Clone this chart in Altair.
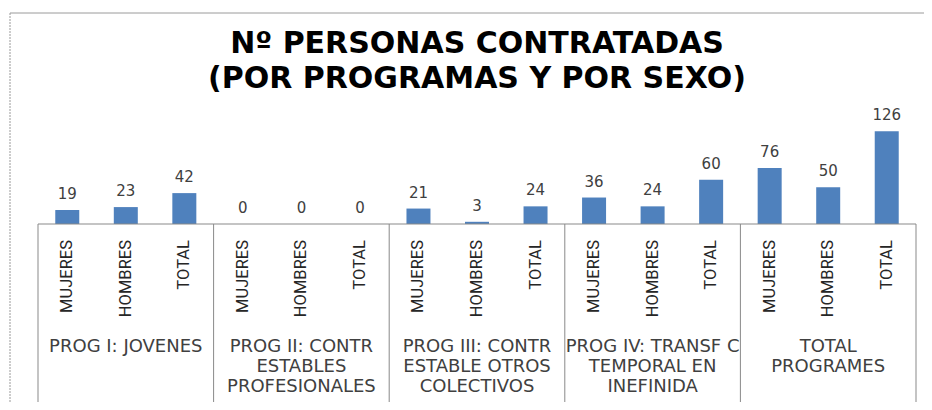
import altair as alt
import pandas as pd

# ---- data ----
group_labels = [
    ["PROG I: JOVENES"],
    ["PROG II: CONTR", "ESTABLES", "PROFESIONALES"],
    ["PROG III: CONTR", "ESTABLE OTROS", "COLECTIVOS"],
    ["PROG IV: TRANSF C", "TEMPORAL EN", "INEFINIDA"],
    ["TOTAL", "PROGRAMES"],
]
sub_labels = ["MUJERES", "HOMBRES", "TOTAL"]
values = [19, 23, 42, 0, 0, 0, 21, 3, 24, 36, 24, 60, 76, 50, 126]
title_lines = ["Nº PERSONAS CONTRATADAS", "(POR PROGRAMAS Y POR SEXO)"]

# ---- tables ----
bars = pd.DataFrame({
    "pos": [i + 0.5 for i in range(len(values))],
    "sub": [sub_labels[i % 3] for i in range(len(values))],
    "value": values,
})
groups = pd.DataFrame({
    "center": [g * 3 + 1.5 for g in range(len(group_labels))],
    "label": ["\n".join(l) for l in group_labels],
})
seps = pd.DataFrame({"x": [g * 3 for g in range(len(group_labels) + 1)]})
base = pd.DataFrame({"x": [0], "x2": [15], "y": [0]})
title_df = pd.DataFrame({"t": ["\n".join(title_lines)]})

W, H = 888, 114
PAD = {"left": 25, "top": 102, "right": 3, "bottom": 178}
xs = alt.Scale(domain=[0, 15], nice=False, zero=False)
ys = alt.Scale(domain=[0, 155], nice=False)

blue = "#4F81BD"
gray = "#898989"
txt = "#404040"

bar_layer = alt.Chart(bars).mark_bar(size=24, color=blue).encode(
    x=alt.X("pos:Q", scale=xs, axis=None),
    y=alt.Y("value:Q", scale=ys, axis=None),
)
val_layer = alt.Chart(bars).mark_text(
    baseline="alphabetic", dy=-11, font="DejaVu Sans", fontSize=15, color=txt
).encode(
    x=alt.X("pos:Q", scale=xs),
    y=alt.Y("value:Q", scale=ys),
    text="value:Q",
)
sub_layer = alt.Chart(bars).mark_text(
    angle=270, align="right", baseline="middle", font="Roboto", fontSize=16.5, color="#262626"
).encode(
    x=alt.X("pos:Q", scale=xs),
    y=alt.value(H + 16),
    text="sub:N",
)
grp_layer = alt.Chart(groups).mark_text(
    align="center", baseline="alphabetic", font="DejaVu Sans", fontSize=18,
    lineBreak="\n", lineHeight=20, color=txt
).encode(
    x=alt.X("center:Q", scale=xs),
    y=alt.value(H + 128),
    text="label:N",
)
sep_layer = alt.Chart(seps).mark_rule(color=gray, strokeWidth=1).encode(
    x=alt.X("x:Q", scale=xs),
    y=alt.value(H),
    y2=alt.value(H + PAD["bottom"]),
)
base_layer = alt.Chart(base).mark_rule(color=gray, strokeWidth=1).encode(
    x=alt.X("x:Q", scale=xs),
    x2="x2:Q",
    y=alt.Y("y:Q", scale=ys),
)
border_top = alt.Chart(base).mark_rule(color="#9a9a9a", strokeWidth=1).encode(
    x=alt.value(-23), x2=alt.value(W + PAD["right"]), y=alt.value(-97)
)
border_left = alt.Chart(base).mark_rule(color="#9a9a9a", strokeWidth=1, strokeDash=[2, 1]).encode(
    x=alt.value(-23), y=alt.value(-97), y2=alt.value(H + PAD["bottom"])
)
title_layer = alt.Chart(title_df).mark_text(
    align="center", baseline="alphabetic", font="DejaVu Sans", fontSize=30,
    fontWeight="bold", lineBreak="\n", lineHeight=35, color="black"
).encode(
    x=alt.value(W / 2),
    y=alt.value(-57),
    text="t:N",
)

chart = alt.layer(
    border_top, border_left, title_layer, bar_layer, base_layer, sep_layer,
    val_layer, sub_layer, grp_layer
).properties(
    width=W,
    height=H,
    padding=PAD,
    autosize=alt.AutoSizeParams(type="none"),
).configure_view(stroke=None)

chart.save("out.html", embed_options={"renderer": "svg", "actions": False})
